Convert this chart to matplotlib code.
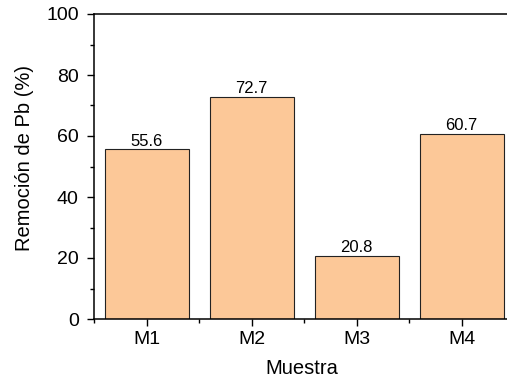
import matplotlib
matplotlib.use("Agg")
import matplotlib.pyplot as plt
from matplotlib.ticker import MultipleLocator

plt.rcParams["font.family"] = ["Liberation Sans", "DejaVu Sans"]

muestras = ["M1", "M2", "M3", "M4"]
remocion = [55.6, 72.7, 20.8, 60.7]

fig = plt.figure(figsize=(5.07, 3.78), dpi=100)
ax = fig.add_axes([94 / 507, 59 / 378, 420 / 507, 305 / 378])

x = range(len(muestras))
bars = ax.bar(x, remocion, width=0.8, color="#FCC898", edgecolor="#222222", linewidth=0.8)
for xi, v in zip(x, remocion):
    ax.text(xi, v + 0.3, f"{v:.1f}", ha="center", va="bottom", fontsize=12)

ax.set_xlim(-0.5, 3.5)
ax.set_ylim(0, 100)
ax.set_xticks(list(x))
ax.set_xticklabels(muestras)
ax.xaxis.set_minor_locator(MultipleLocator(1.0, offset=0.5))
ax.yaxis.set_major_locator(MultipleLocator(20))
ax.yaxis.set_minor_locator(MultipleLocator(10))

ax.tick_params(axis="both", which="major", direction="out", length=5, width=1, labelsize=14)
ax.tick_params(axis="both", which="minor", direction="out", length=3, width=1)
ax.tick_params(axis="y", pad=6)
ax.tick_params(axis="x", pad=4)
ax.tick_params(top=False, right=False)

for s in ax.spines.values():
    s.set_linewidth(1.1)

ax.set_xlabel("Muestra", fontsize=14.5)
ax.set_ylabel("Remoción de Pb (%)", fontsize=14.5)
ax.xaxis.set_label_coords(0.495, -0.13)
ax.yaxis.set_label_coords(-0.142, 0.528)

fig.savefig("out.png", dpi=100)
